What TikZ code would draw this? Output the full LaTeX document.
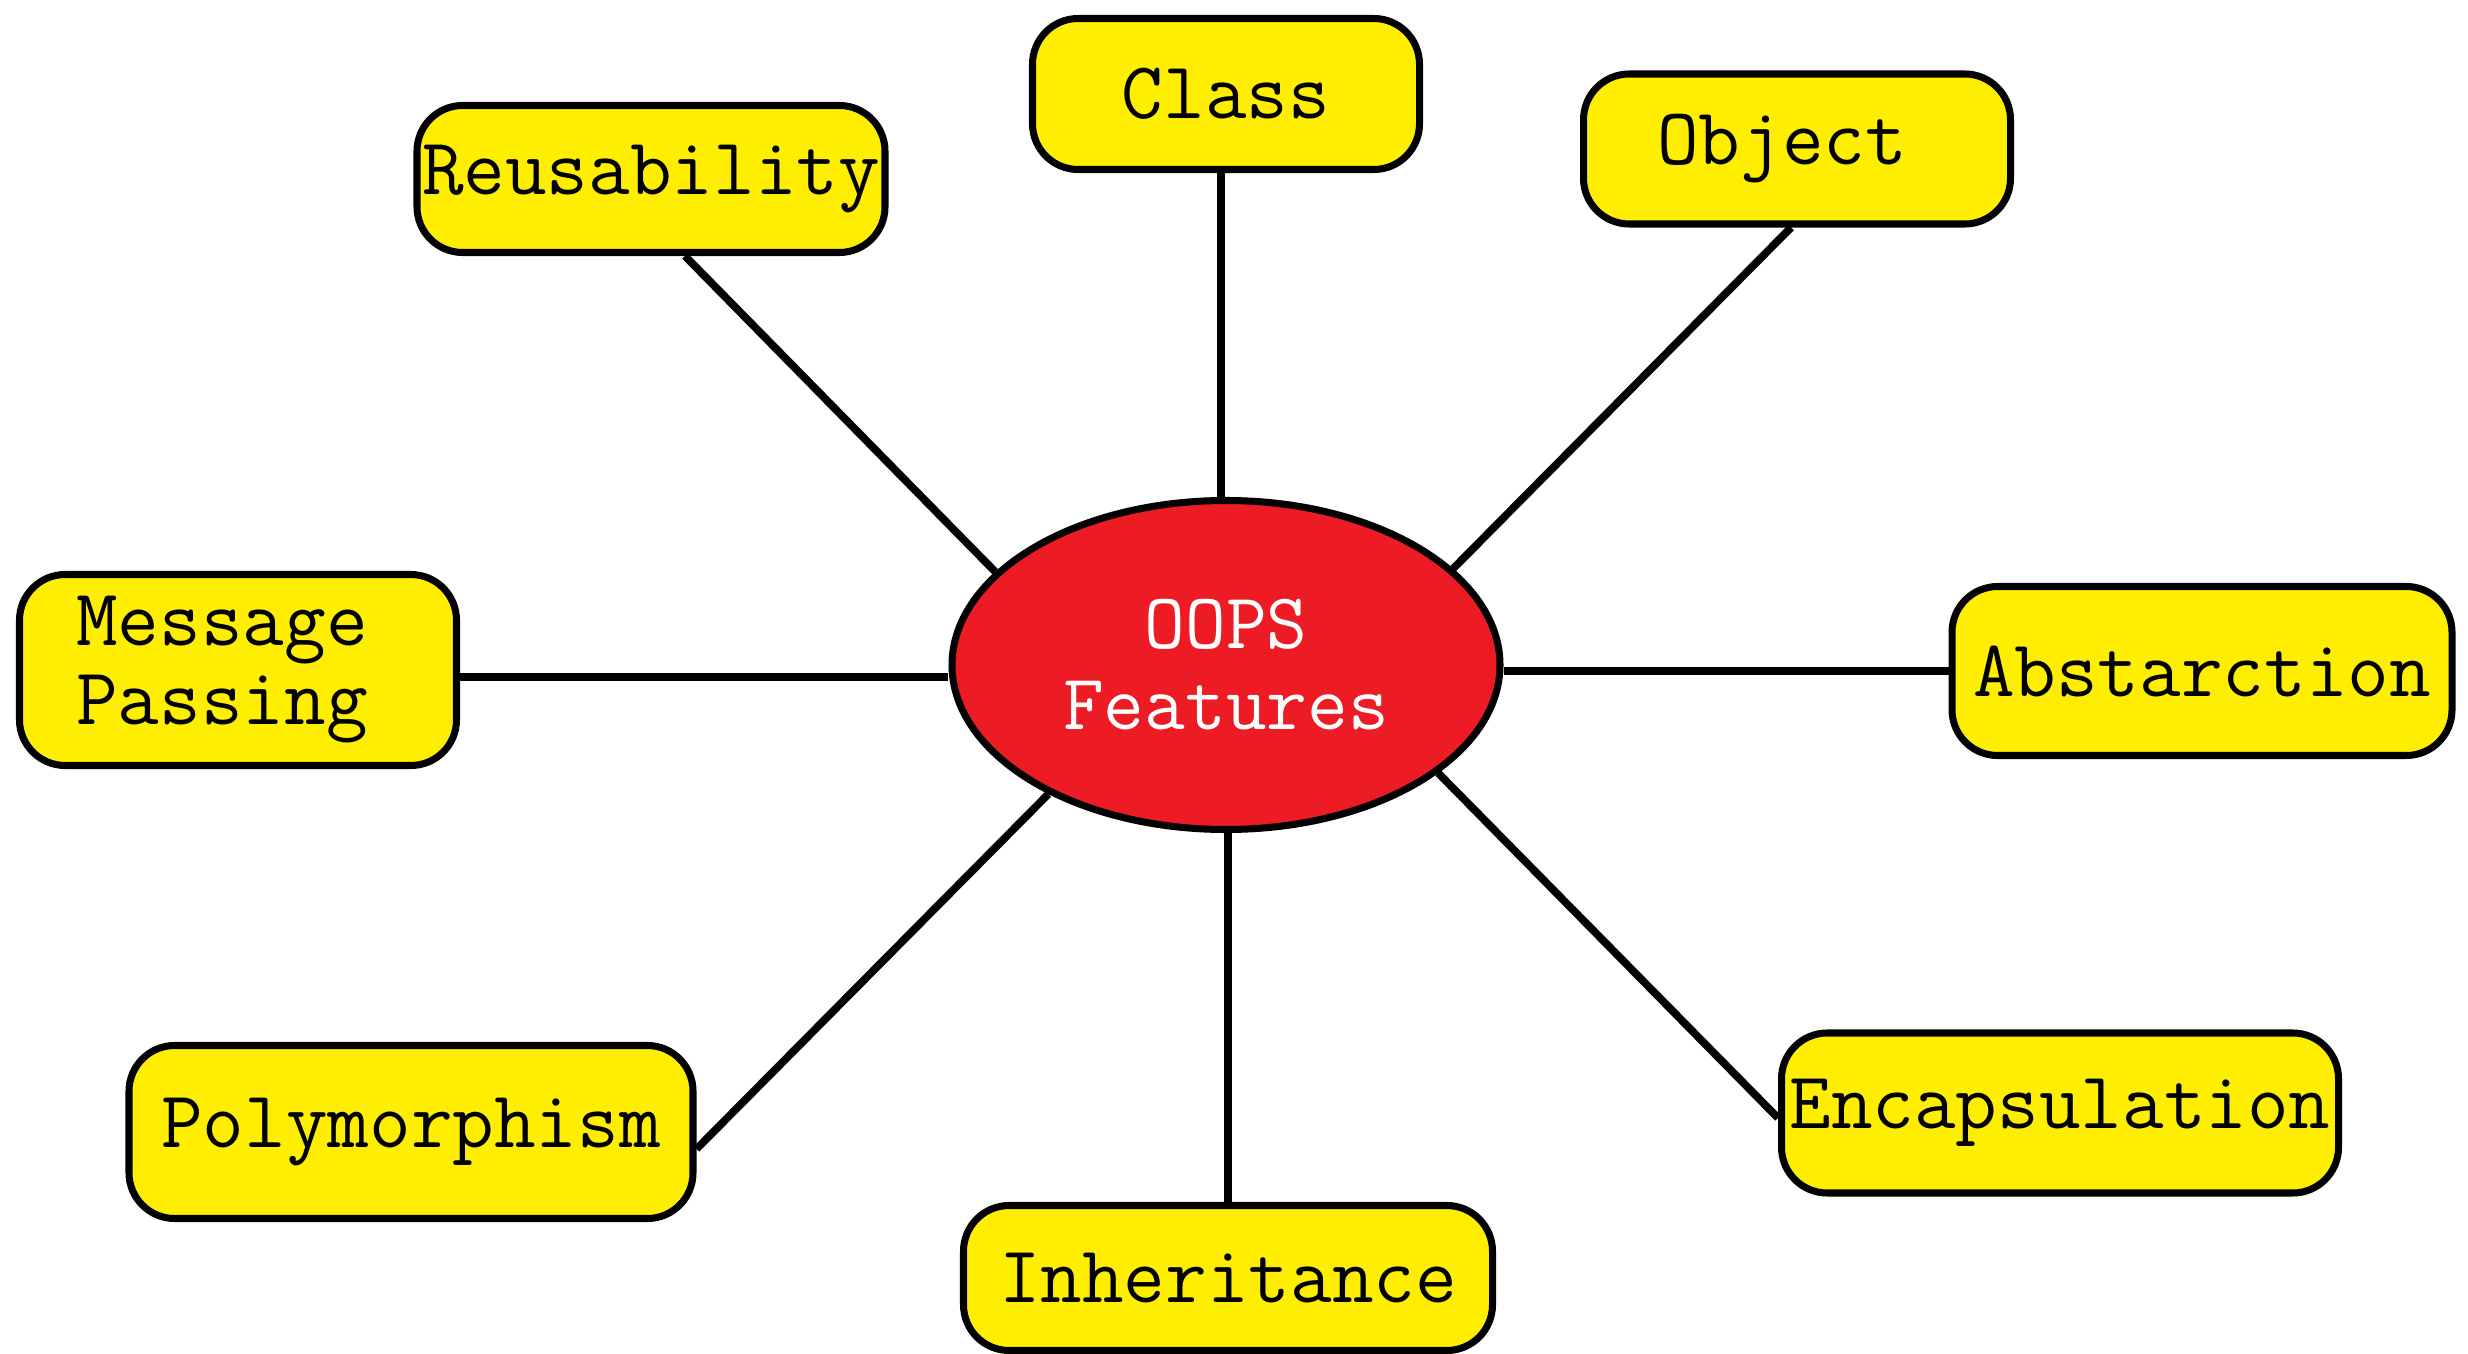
\documentclass[tikz,border=0pt]{standalone}
\usepackage{fontspec}
\usepackage{tikz}
\usetikzlibrary{shapes.geometric, positioning}

\definecolor{boxyellow}{RGB}{255,238,0}
\definecolor{hubred}{RGB}{237,28,36}

\tikzset{
    feature/.style={draw, line width=2pt, fill=boxyellow, rounded corners=13pt,
        inner sep=0pt, align=center, font=\fontsize{23}{22.5}\selectfont\ttfamily},
    hub/.style={draw, line width=2pt, fill=hubred, ellipse, inner sep=0pt,
        align=center, text=white, font=\fontsize{22.5}{23}\selectfont\ttfamily},
    spoke/.style={line width=2.2pt}
}

\begin{document}
\begin{tikzpicture}

    \useasboundingbox (0, 0) rectangle (24.68, 13.53);

    % Centro
    \node[hub, minimum width=5.48cm, minimum height=3.29cm] (oops) at (12.26, 6.88) {OOPS\\Features};

    % Caixas das caracteristicas
    \node[feature, minimum width=3.87cm, minimum height=1.51cm] (class) at (12.26, 12.59) {Class};
    \node[feature, minimum width=4.68cm, minimum height=1.47cm] (reuse) at (6.51, 11.74) {Reusability};
    \node[feature, minimum width=4.27cm, minimum height=1.50cm] (object) at (17.97, 12.04) {Object\hspace*{3mm}};
    \node[feature, minimum width=4.37cm, minimum height=1.91cm, align=left] (msg) at (2.38, 6.83) {Message\hspace*{3.2mm}\\Passing\hspace*{3.2mm}};
    \node[feature, minimum width=5.00cm, minimum height=1.69cm] (abs) at (22.02, 6.82) {Abstarction};
    \node[feature, minimum width=5.64cm, minimum height=1.73cm] (poly) at (4.11, 2.21) {Polymorphism};
    \node[feature, minimum width=5.29cm, minimum height=1.45cm] (inh) at (12.28, 0.75) {Inheritance};
    \node[feature, minimum width=5.57cm, minimum height=1.60cm] (enc) at (20.60, 2.40) {Encapsulation};

    % Ligacoes ao centro
    \draw[spoke] ([xshift=3.4mm]reuse.south) -- (oops.158);
    \draw[spoke] ([xshift=-0.5mm]class.south) -- ([xshift=-0.5mm]oops.north);
    \draw[spoke] ([xshift=-0.6mm]object.south) -- (oops.23);
    \draw[spoke] ([yshift=-0.7mm]msg.east) -- ([yshift=-0.7mm]msg.east -| oops.west);
    \draw[spoke] (abs.west) -- (abs.west -| oops.east);
    \draw[spoke] ([yshift=-1.7mm]poly.east) -- (oops.216);
    \draw[spoke] (inh.north) -- (inh.north |- oops.south);
    \draw[spoke] ([yshift=-0.5mm]enc.west) -- (oops.333);

\end{tikzpicture}
\end{document}
